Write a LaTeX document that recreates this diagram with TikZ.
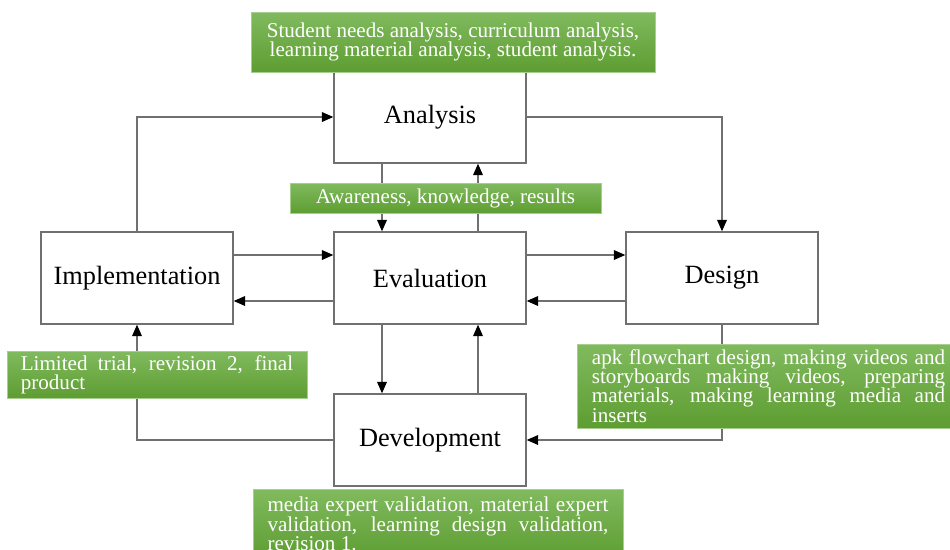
\documentclass[tikz,border=0pt]{standalone}
\usepackage{fontspec}
\setmainfont{Liberation Serif}
\usetikzlibrary{arrows.meta,calc,positioning}

\definecolor{linegray}{RGB}{112,112,112}
\definecolor{notetop}{RGB}{128,186,94}
\definecolor{notebottom}{RGB}{94,157,50}

\tikzset{
  stage/.style={draw=linegray, line width=0.8pt, fill=white,
    minimum width=3.84cm, minimum height=1.84cm,
    font=\fontsize{15}{18}\selectfont},
  flow/.style={draw=linegray, line width=0.75pt,
    -{Triangle[length=6.5pt,width=5.5pt,black]}},
  note/.style={top color=notetop, bottom color=notebottom,
    draw=notetop!70!white, line width=0.4pt, text=white, inner sep=0pt,
    font=\fontsize{12}{11}\selectfont},
}

\begin{document}
\begin{tikzpicture}[x=0.02cm,y=-0.02cm]
  \useasboundingbox (0,0) rectangle (950,549);
  %
  \node[stage] (ana)  at (430,117) {Analysis};
  \node[stage] (eval) at (430,278) {Evaluation};
  \node[stage] (impl) at (137,278) {Implementation};
  \node[stage] (des)  at (722,278) {Design};
  \node[stage] (dev)  at (430,440) {Development};

  \draw[flow] (impl.north) |- (ana.west);
  \draw[flow] (ana.east) -| (des.north);
  \draw[flow] (des.south) |- (dev.east);
  \draw[flow] (dev.west) -| (impl.south);

  \foreach \a/\b in {ana/eval,eval/dev} {
    \draw[flow] ($(\a.south)+(-48,0)$) -- ($(\b.north)+(-48,0)$);
    \draw[flow] ($(\b.north)+(48,0)$) -- ($(\a.south)+(48,0)$);
  }
  \foreach \a/\b in {impl/eval,eval/des} {
    \draw[flow] ($(\a.east)+(0,-23)$) -- ($(\b.west)+(0,-23)$);
    \draw[flow] ($(\b.west)+(0,23)$) -- ($(\a.east)+(0,23)$);
  }

  \node[note, minimum width=8.08cm, minimum height=1.2cm, align=center] (anatext) at (453,42)
    {Student needs analysis, curriculum analysis,\\learning material analysis, student analysis.};
  \node[note, minimum width=6.22cm, minimum height=0.6cm] (evaltext) at (445.5,198)
    {Awareness, knowledge, results};
  \node[note, minimum width=6cm, minimum height=0.94cm, text width=155pt, align=justify] (impltext) at (157,374.5)
    {Limited trial, revision 2, final\linebreak product};
  \node[note, minimum width=7.66cm, minimum height=1.68cm, text width=201pt, align=justify] (destext) at (768.5,386)
    {apk flowchart design, making videos and\linebreak storyboards making videos, preparing\linebreak
     materials, making learning media and\linebreak inserts};
  \node[note, minimum width=7.4cm, minimum height=1.38cm, text width=194pt, align=justify] (devtext) at (438,524)
    {media expert validation, material expert\linebreak validation, learning design validation,\linebreak revision 1.};

\end{tikzpicture}
\end{document}
